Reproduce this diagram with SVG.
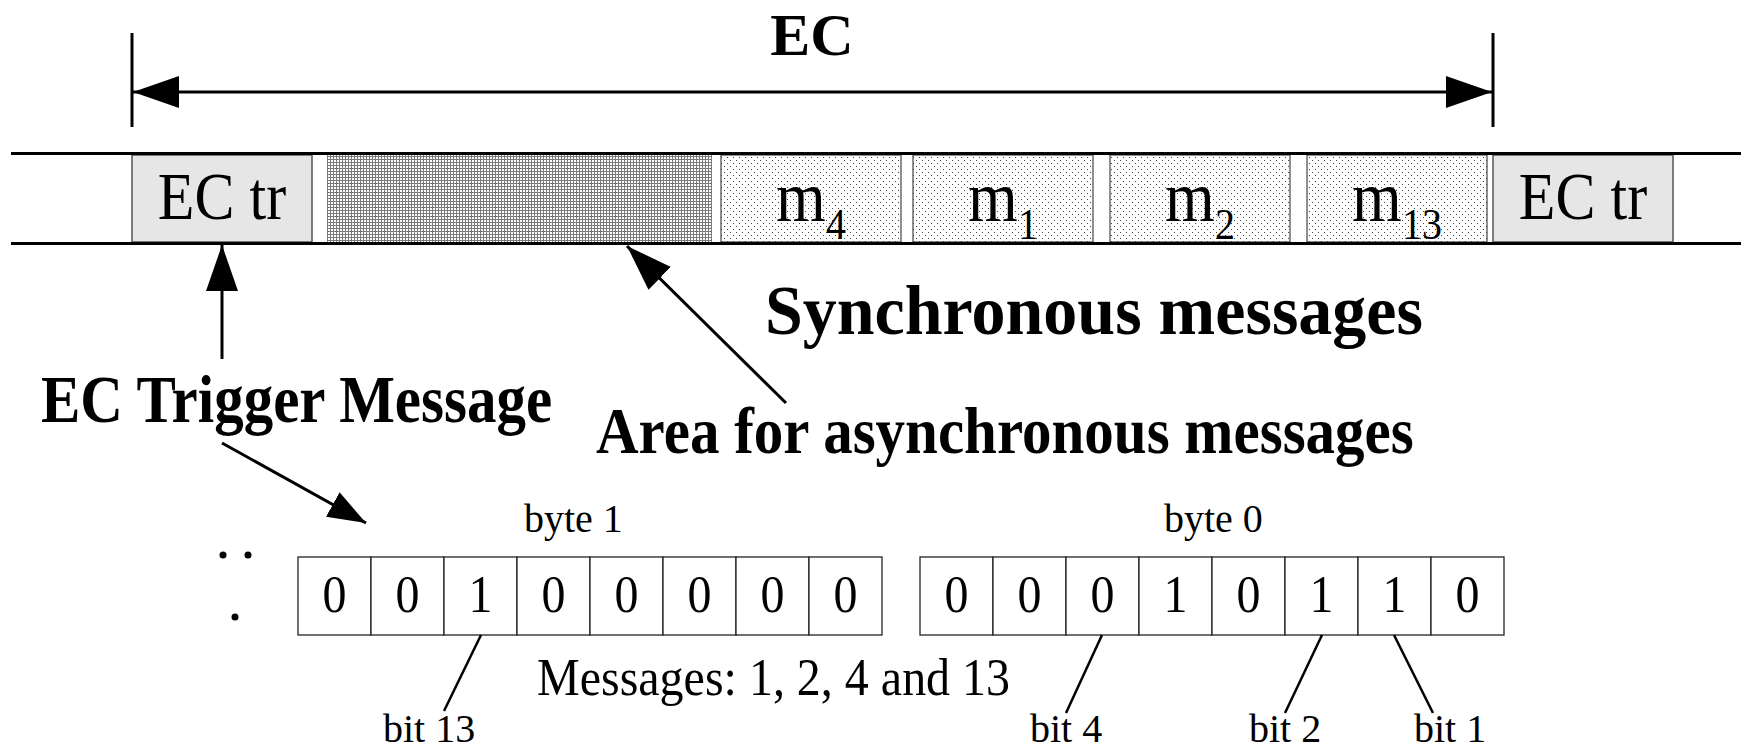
<svg xmlns="http://www.w3.org/2000/svg" width="1741" height="750" viewBox="0 0 1741 750">
<style>
text{font-family:"Liberation Serif","Times New Roman",serif;fill:#000}
.b{font-weight:bold}
.line{stroke:#000;stroke-width:3;fill:none}
.thin{stroke:#000;stroke-width:2.5;fill:none}
.ectr{fill:#e6e6e6;stroke:#555;stroke-width:1.5}
.msg{fill:url(#dots);stroke:#444;stroke-width:1.2}
.async{fill:url(#hatch);stroke:none}
.cell{fill:#fff;stroke:#222;stroke-width:1.3}
.big{font-size:60px}
.dig{font-size:48px;text-anchor:middle}
.lbl{font-size:40px}
</style>
<defs>
<pattern id="hatch" width="3" height="3" patternUnits="userSpaceOnUse">
<rect width="3" height="3" fill="#fff"/>
<rect width="3" height="1" fill="#7a7a7a"/>
<rect width="1" height="3" fill="#7a7a7a"/>
</pattern>
<pattern id="dots" width="6" height="6" patternUnits="userSpaceOnUse">
<rect width="6" height="6" fill="#fff"/>
<rect x="1" y="1" width="1" height="1" fill="#444"/>
<rect x="4" y="4" width="1" height="1" fill="#444"/>
</pattern>
<marker id="ah" viewBox="0 0 46 32" refX="46" refY="16" markerWidth="46" markerHeight="32" orient="auto-start-reverse" markerUnits="userSpaceOnUse">
<path d="M0,0 L46,16 L0,32 z" fill="#000"/>
</marker>
<marker id="ahs" viewBox="0 0 38 28" refX="38" refY="14" markerWidth="38" markerHeight="28" orient="auto" markerUnits="userSpaceOnUse">
<path d="M0,0 L38,14 L0,28 z" fill="#000"/>
</marker>
</defs>
<rect width="1741" height="750" fill="#fff"/>

<g id="ec-title"><text class="b" x="812" y="55" font-size="60" text-anchor="middle">EC</text></g>

<g id="timeline">
<rect id="ectr1" class="ectr" x="132" y="155" width="180" height="87"/>
<rect id="async" class="async" x="327" y="155" width="385" height="87"/>
<rect id="m4" class="msg" x="721" y="155" width="180" height="87"/>
<rect id="m1" class="msg" x="913" y="155" width="180" height="87"/>
<rect id="m2" class="msg" x="1110" y="155" width="180" height="87"/>
<rect id="m13" class="msg" x="1307" y="155" width="180" height="87"/>
<rect id="ectr2" class="ectr" x="1493" y="155" width="180" height="87"/>
<line class="line" x1="11" y1="153.5" x2="1741" y2="153.5"/>
<line class="line" x1="11" y1="243.5" x2="1741" y2="243.5"/>
</g>

<g id="timeline-labels">
<text class="big" transform="translate(222,219) scale(1,1.12)" text-anchor="middle">EC tr</text>
<text class="big" transform="translate(1583,219) scale(1,1.12)" text-anchor="middle">EC tr</text>
<text font-size="64" transform="translate(811,221) scale(1,1.12)" text-anchor="middle">m<tspan font-size="40" dy="16">4</tspan></text>
<text font-size="64" transform="translate(1003,221) scale(1,1.12)" text-anchor="middle">m<tspan font-size="40" dy="16">1</tspan></text>
<text font-size="64" transform="translate(1200,221) scale(1,1.12)" text-anchor="middle">m<tspan font-size="40" dy="16">2</tspan></text>
<text font-size="64" transform="translate(1397,221) scale(1,1.12)" text-anchor="middle">m<tspan font-size="40" dy="16">13</tspan></text>
</g>

<g id="labels">
<text class="b" transform="translate(765,334) scale(1,1.03)" font-size="68">Synchronous messages</text>
<text class="b" transform="translate(41,422) scale(1,1.13)" font-size="59">EC Trigger Message</text>
<text class="b" transform="translate(596,453) scale(1,1.1)" font-size="59">Area for asynchronous messages</text>
</g>

<g id="byte1">
<text class="lbl" x="524" y="532" font-size="38">byte 1</text>
<rect class="cell" x="298" y="557" width="73" height="78"/>
<rect class="cell" x="371" y="557" width="73" height="78"/>
<rect class="cell" x="444" y="557" width="73" height="78"/>
<rect class="cell" x="517" y="557" width="73" height="78"/>
<rect class="cell" x="590" y="557" width="73" height="78"/>
<rect class="cell" x="663" y="557" width="73" height="78"/>
<rect class="cell" x="736" y="557" width="73" height="78"/>
<rect class="cell" x="809" y="557" width="73" height="78"/>
<g transform="translate(0,612) scale(1,1.12)">
<text class="dig" x="334.5" y="0">0</text>
<text class="dig" x="407.5" y="0">0</text>
<text class="dig" x="480.5" y="0">1</text>
<text class="dig" x="553.5" y="0">0</text>
<text class="dig" x="626.5" y="0">0</text>
<text class="dig" x="699.5" y="0">0</text>
<text class="dig" x="772.5" y="0">0</text>
<text class="dig" x="845.5" y="0">0</text>
</g>
</g>

<g id="byte0">
<text class="lbl" x="1164" y="532" font-size="38">byte 0</text>
<rect class="cell" x="920" y="557" width="73" height="78"/>
<rect class="cell" x="993" y="557" width="73" height="78"/>
<rect class="cell" x="1066" y="557" width="73" height="78"/>
<rect class="cell" x="1139" y="557" width="73" height="78"/>
<rect class="cell" x="1212" y="557" width="73" height="78"/>
<rect class="cell" x="1285" y="557" width="73" height="78"/>
<rect class="cell" x="1358" y="557" width="73" height="78"/>
<rect class="cell" x="1431" y="557" width="73" height="78"/>
<g transform="translate(0,612) scale(1,1.12)">
<text class="dig" x="956.5" y="0">0</text>
<text class="dig" x="1029.5" y="0">0</text>
<text class="dig" x="1102.5" y="0">0</text>
<text class="dig" x="1175.5" y="0">1</text>
<text class="dig" x="1248.5" y="0">0</text>
<text class="dig" x="1321.5" y="0">1</text>
<text class="dig" x="1394.5" y="0">1</text>
<text class="dig" x="1467.5" y="0">0</text>
</g>
</g>

<g id="ellipsis">
<circle cx="223" cy="555" r="3.5" fill="#000"/>
<circle cx="248" cy="555" r="3.5" fill="#000"/>
<circle cx="235" cy="617" r="3.5" fill="#000"/>
</g>

<g id="bottom-labels">
<text font-size="48" transform="translate(537,695) scale(1,1.08)">Messages: 1, 2, 4 and 13</text>
<text class="lbl" x="383" y="742">bit 13</text>
<text class="lbl" x="1030" y="742">bit 4</text>
<text class="lbl" x="1249" y="742">bit 2</text>
<text class="lbl" x="1414" y="742">bit 1</text>
</g>

<g id="connectors">
<line class="line" x1="132" y1="33" x2="132" y2="127"/>
<line class="line" x1="1493" y1="33" x2="1493" y2="127"/>
<line class="line" x1="133" y1="92" x2="1492" y2="92" marker-start="url(#ah)" marker-end="url(#ah)"/>
<line class="line" x1="222" y1="359" x2="222" y2="245" marker-end="url(#ah)"/>
<line class="line" x1="786" y1="403" x2="627" y2="246" marker-end="url(#ah)"/>
<line class="line" x1="222" y1="443" x2="366" y2="523" marker-end="url(#ahs)"/>
<line class="thin" x1="481" y1="635" x2="444" y2="711"/>
<line class="thin" x1="1102" y1="635" x2="1066" y2="713"/>
<line class="thin" x1="1322" y1="635" x2="1285" y2="713"/>
<line class="thin" x1="1394" y1="635" x2="1433" y2="713"/>
</g>
</svg>
